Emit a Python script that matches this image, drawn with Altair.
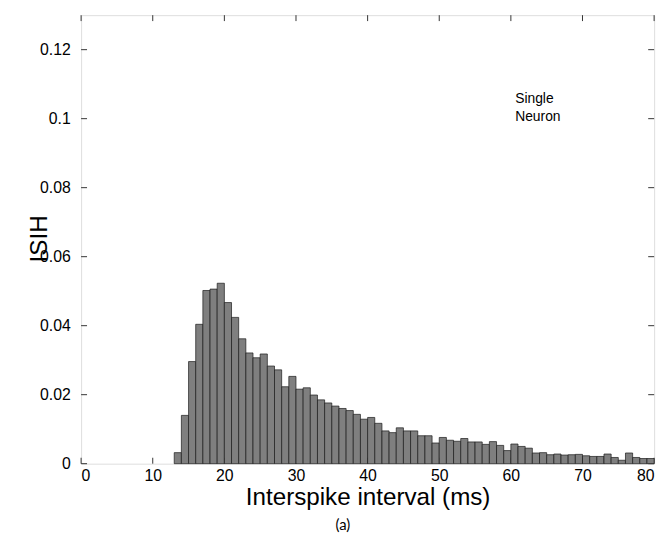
import altair as alt
import pandas as pd

# ---- data ----
bin_start = list(range(13, 80))  # 1 ms bins, [13,14) ... [79,80)
isih = [
    0.0032, 0.0140, 0.0296, 0.0404, 0.0502, 0.0506, 0.0523, 0.0467, 0.0424, 0.0362,  # 13-22
    0.0321, 0.0307, 0.0318, 0.0283, 0.0272, 0.0223, 0.0253, 0.0216, 0.0220, 0.0199,  # 23-32
    0.0185, 0.0176, 0.0167, 0.0160, 0.0154, 0.0143, 0.0129, 0.0134, 0.0117, 0.0095,  # 33-42
    0.0090, 0.0104, 0.0095, 0.0095, 0.0081, 0.0081, 0.0060, 0.0076, 0.0068, 0.0065,  # 43-52
    0.0073, 0.0063, 0.0063, 0.0056, 0.0064, 0.0053, 0.0038, 0.0057, 0.0050, 0.0045,  # 53-62
    0.0031, 0.0032, 0.0026, 0.0028, 0.0025, 0.0026, 0.0027, 0.0023, 0.0021, 0.0021,  # 63-72
    0.0028, 0.0018, 0.0010, 0.0031, 0.0018, 0.0015, 0.0015,                          # 73-79
]
x_ticks = [0, 10, 20, 30, 40, 50, 60, 70, 80]
y_ticks = [0, 0.02, 0.04, 0.06, 0.08, 0.10, 0.12]
note_lines = ["Single", "Neuron"]
note_x = [60.6, 60.6]
note_y = [0.1057, 0.1004]

bars_df = pd.DataFrame({
    "start": bin_start,
    "end": [s + 1 for s in bin_start],
    "isih": isih,
})
xt_df = pd.DataFrame({"v": x_ticks})
yt_df = pd.DataFrame({"v": y_ticks})
note_df = pd.DataFrame({"t": note_lines, "x": note_x, "y": note_y})

W, H = 580, 454
TL = 6  # inward tick length
FONT = "Liberation Sans"

xscale = alt.Scale(domain=[0, 80], nice=False, zero=False)
yscale = alt.Scale(domain=[0, 0.13], nice=False, zero=False)

x_axis = alt.Axis(
    values=x_ticks, ticks=False, domain=False, grid=False,
    labelFont=FONT, labelFontSize=16, labelPadding=4, labelColor="black",
    title="Interspike interval (ms)", titleFont=FONT, titleFontSize=24.5,
    titleFontWeight="normal", titleColor="black",
    titleX=W / 2, titleY=34, titleAlign="center", titleBaseline="middle",
)
y_axis = alt.Axis(
    values=y_ticks, ticks=False, domain=False, grid=False, format=".2~f",
    labelFont=FONT, labelFontSize=16, labelPadding=11, labelColor="black",
    title="ISIH", titleFont=FONT, titleFontSize=24.5, titleFontWeight="normal",
    titleColor="black", titleAngle=270, titleX=-42, titleY=226,
    titleAlign="center", titleBaseline="middle",
)

tick_color = "#333333"

bottom_ticks = alt.Chart(xt_df).mark_rule(color=tick_color, strokeWidth=1).encode(
    x=alt.X("v:Q", scale=xscale, axis=x_axis), y=alt.value(H - TL), y2=alt.value(H))
top_ticks = alt.Chart(xt_df).mark_rule(color=tick_color, strokeWidth=1).encode(
    x=alt.X("v:Q", scale=xscale, axis=x_axis), y=alt.value(0), y2=alt.value(TL))
left_ticks = alt.Chart(yt_df).mark_rule(color=tick_color, strokeWidth=1).encode(
    y=alt.Y("v:Q", scale=yscale, axis=y_axis), x=alt.value(0), x2=alt.value(TL))
right_ticks = alt.Chart(yt_df).mark_rule(color=tick_color, strokeWidth=1).encode(
    y=alt.Y("v:Q", scale=yscale, axis=y_axis), x=alt.value(W - TL), x2=alt.value(W))

bars = alt.Chart(bars_df).mark_rect(
    fill="#7f7f7f", stroke="#1a1a1a", strokeWidth=0.7
).encode(
    x=alt.X("start:Q", scale=xscale, axis=x_axis),
    x2="end:Q",
    y=alt.Y("isih:Q", scale=yscale, axis=y_axis),
    y2=alt.datum(0),
)

note = alt.Chart(note_df).mark_text(
    align="left", baseline="middle", font=FONT, fontSize=14, color="black"
).encode(
    x=alt.X("x:Q", scale=xscale, axis=x_axis),
    y=alt.Y("y:Q", scale=yscale, axis=y_axis),
    text="t:N",
)

chart = alt.layer(
    bottom_ticks, top_ticks, left_ticks, right_ticks, bars, note
).properties(
    width=W, height=H,
    autosize=alt.AutoSizeParams(type="none"),
    padding={"left": 74, "top": 4, "right": 10, "bottom": 74},
    title=alt.TitleParams(
        text="(a)", orient="bottom", anchor="middle", font="Lato",
        fontSize=15, fontWeight="normal", color="black", dx=-25, offset=10,
    ),
).configure_view(
    stroke="#333333", strokeWidth=1.2
).configure(background="white")

chart.save("out.html", embed_options={"renderer": "svg", "actions": False})
